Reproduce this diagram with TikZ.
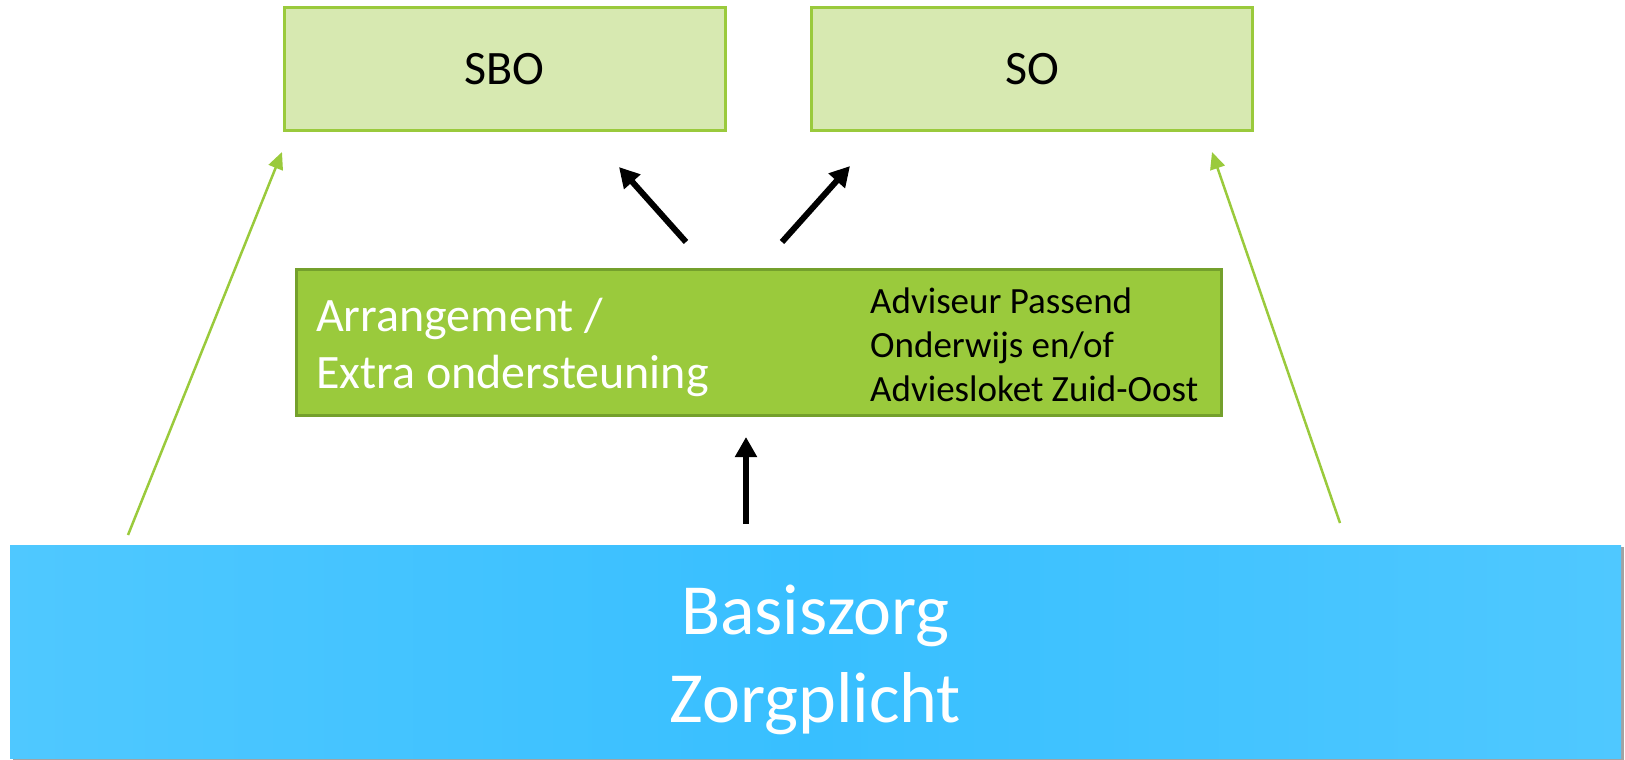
\documentclass[tikz,border=0pt]{standalone}
\usepackage{fontspec}
\setmainfont{Carlito}
\usetikzlibrary{arrows.meta,shadows}
\definecolor{lichtgroen}{HTML}{D7E9B1}
\definecolor{groen}{HTML}{9ACA3C}
\definecolor{donkergroen}{HTML}{74A02C}
\definecolor{blauw}{HTML}{38BFFF}
\definecolor{lichtblauw}{HTML}{4FC8FF}

\begin{document}
\begin{tikzpicture}[x=1pt,y=-1pt]
  \tikzset{school/.style = {draw=groen, fill=lichtgroen, line width=3pt, minimum width=441pt, minimum height=122pt, inner sep=0pt, font=\fontsize{48}{57}\selectfont}}
  \tikzset{zwart/.style = {draw=black, line width=6pt, -{Triangle[length=20pt,width=21pt]}}}
  \tikzset{groenpijl/.style = {draw=groen, line width=2.5pt, -{Triangle[length=17pt,width=15pt]}}}

\useasboundingbox (0,0) rectangle (1625,760);

\node[school] (sbo)  at (504.5,69) {SBO};
\node[school] (so)  at (1032,69) {SO};
\node[draw=donkergroen, fill=groen, line width=3pt, minimum width=925pt, minimum height=146pt, inner sep=0pt] (arr)  at (758.5,342) {};
\node[anchor=west, inner sep=0pt, align=left, text=white, font=\fontsize{48}{57}\selectfont] (arrtekst)  at (316,347) {Arrangement /\\Extra ondersteuning};
\node[anchor=west, inner sep=0pt, align=left, font=\fontsize{37}{44}\selectfont] (advies)  at (870,345) {Adviseur Passend\\Onderwijs en/of\\Adviesloket Zuid-Oost};
\node[left color=lichtblauw, right color=lichtblauw, middle color=blauw, drop shadow={shadow xshift=3pt, shadow yshift=-2pt, fill=black!60, opacity=0.6}, minimum width=1611pt, minimum height=213pt, inner sep=0pt] (basis)  at (815.5,651.5) {};
\node[inner sep=0pt, align=center, text=white, font=\fontsize{72}{88}\selectfont] (basistekst)  at (815.5,660) {Basiszorg\\Zorgplicht};

\coordinate (lo) at (128,535);
\coordinate (lb) at (282,152);
\coordinate (ro) at (1340,523);
\coordinate (rb) at (1212,152);
\coordinate (m1) at (686,242);
\coordinate (m2) at (619,167);
\coordinate (m3) at (782,242);
\coordinate (m4) at (850,166);
\coordinate (v1) at (746,524);
\coordinate (v2) at (746,437);

    \path (lo) edge[groenpijl] (lb);
    \path (ro) edge[groenpijl] (rb);
      \path (m1) edge[zwart] (m2);
      \path (m3) edge[zwart] (m4);
      \path (v1) edge[zwart] (v2);

\end{tikzpicture}
\end{document}
